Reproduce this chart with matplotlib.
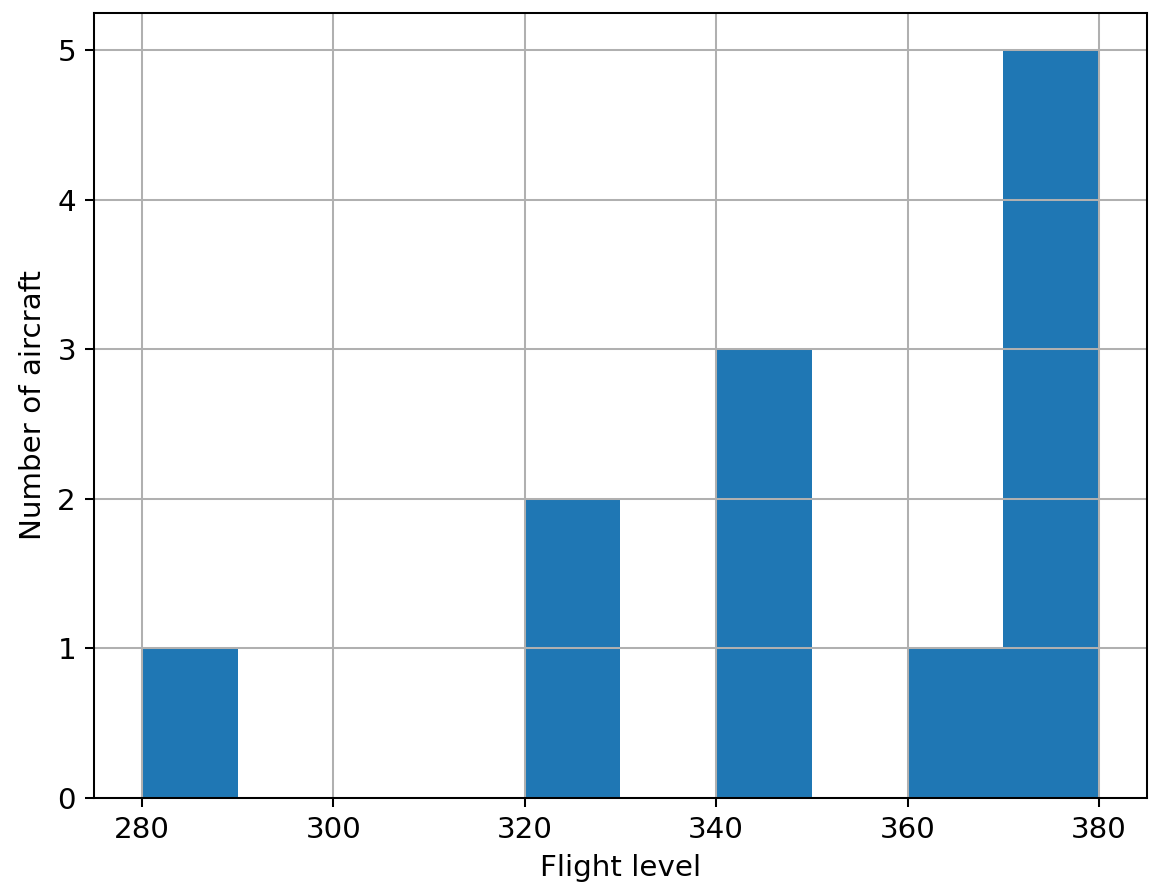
import matplotlib
matplotlib.use("Agg")
import matplotlib.pyplot as plt

bin_edges = [280, 290, 300, 310, 320, 330, 340, 350, 360, 370, 380]
counts = [1, 0, 0, 0, 2, 0, 3, 0, 1, 5]
x_ticks = [280, 300, 320, 340, 360, 380]
y_ticks = [0, 1, 2, 3, 4, 5]

dpi = 184
plt.rcParams["font.size"] = 11.5
fig = plt.figure(figsize=(1176 / dpi, 892 / dpi), dpi=dpi)
ax = fig.add_axes([94 / 1176, 1 - 798 / 892, (1147 - 94) / 1176, (798 - 13) / 892])

ax.hist(bin_edges[:-1], bins=bin_edges, weights=counts, color="#1f77b4")
ax.grid(True)
ax.set_xticks(x_ticks)
ax.set_yticks(y_ticks)
ax.set_xlabel("Flight level")
ax.set_ylabel("Number of aircraft")

fig.savefig("out.png", dpi=dpi)
